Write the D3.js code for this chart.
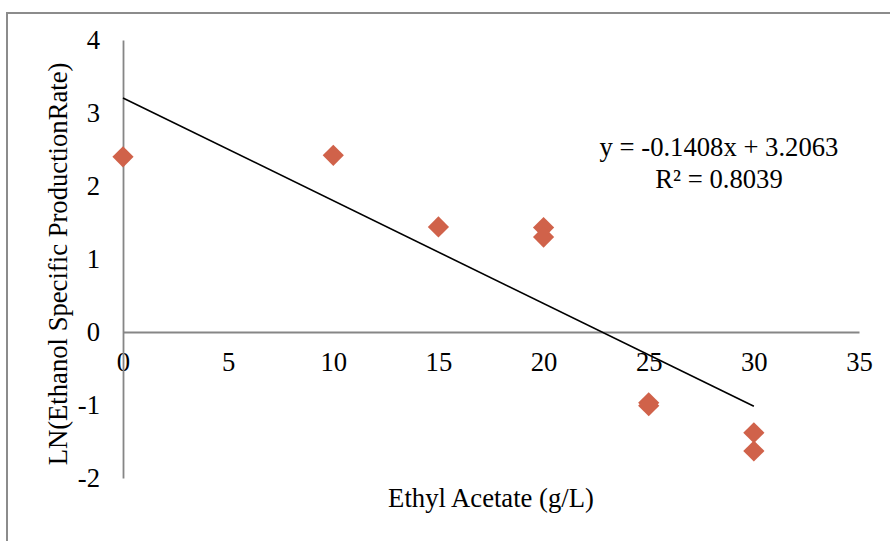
<!DOCTYPE html>
<html>
<head>
<meta charset="utf-8">
<script src="https://cdn.jsdelivr.net/npm/d3@7"></script>
<style>
  html, body { margin: 0; background: #fff; overflow: hidden; }
  svg { display: block; }
  svg text { font-family: "Liberation Serif", "Times New Roman", serif; fill: #000; }
</style>
</head>
<body>
<div id="chart"></div>
<script>
// measured points, Ethyl Acetate (g/L) vs LN(rate)
const xValues = [0, 10, 15, 20, 20, 25, 25, 30, 30]
const yValues = [2.40, 2.42, 1.44, 1.43, 1.30, -0.97, -1.01, -1.38, -1.63]
const xTicks = [0, 5, 10, 15, 20, 25, 30, 35]
const yTicks = [-2, -1, 0, 1, 2, 3, 4]
const slope = -0.1408
const intercept = 3.2063
const eqLines = ["y = -0.1408x + 3.2063", "R² = 0.8039"]

const width = 890, height = 541
const fontSize = "26.67px"

const svg = d3.select("#chart").append("svg").attr("width", width).attr("height", height)

// chart frame: only left and top edges are in the picture
svg.append("path").attr("d", `M7,${height + 5}V13H${width + 5}`)
    .attr("fill", "none").attr("stroke", "#8c8c8c").attr("stroke-width", 2)

const x = d3.scaleLinear().domain([0, 35]).range([123, 859])
const y = d3.scaleLinear().domain([-2, 4]).range([478, 40])

// axes cross at zero
const xAxis = svg.append("g").attr("transform", `translate(0,${y(0)})`)
    .call(d3.axisBottom(x).tickValues(xTicks).tickFormat(d => String(d)).tickSize(0).tickPadding(20))
const yAxis = svg.append("g").attr("transform", `translate(${x(0)},0)`)
    .call(d3.axisLeft(y).tickValues(yTicks).tickFormat(d => String(d)).tickSize(0).tickPadding(23))

;[xAxis, yAxis].forEach(a => {
    a.attr("font-family", null)
    a.select(".domain").attr("stroke", "#868686").attr("stroke-width", 1.8)
    a.selectAll("text").style("font-size", fontSize).attr("fill", "#000")
})

// trendline
svg.append("line")
    .attr("x1", x(0)).attr("y1", y(intercept))
    .attr("x2", x(30)).attr("y2", y(intercept + slope * 30))
    .attr("stroke", "#000").attr("stroke-width", 1.6)

// markers
const diamond = d3.symbol().type(d3.symbolSquare).size(225)
svg.append("g").selectAll("path").data(xValues.map((d, i) => [d, yValues[i]]))
    .enter().append("path")
    .attr("d", diamond)
    .attr("transform", d => `translate(${x(d[0])},${y(d[1])}) rotate(45)`)
    .attr("fill", "#D0624A")

// equation label
svg.append("g").selectAll("text").data(eqLines).enter().append("text")
    .attr("x", 719).attr("y", (d, i) => 156 + i * 32)
    .attr("text-anchor", "middle").style("font-size", fontSize)
    .text(d => d)

// axis titles
svg.append("text").attr("x", 491).attr("y", 507).attr("text-anchor", "middle")
    .style("font-size", fontSize).text("Ethyl Acetate (g/L)")
svg.append("text").attr("transform", "translate(67,264) rotate(-90)").attr("text-anchor", "middle")
    .style("font-size", fontSize).text("LN(Ethanol Specific ProductionRate)")
</script>
</body>
</html>
